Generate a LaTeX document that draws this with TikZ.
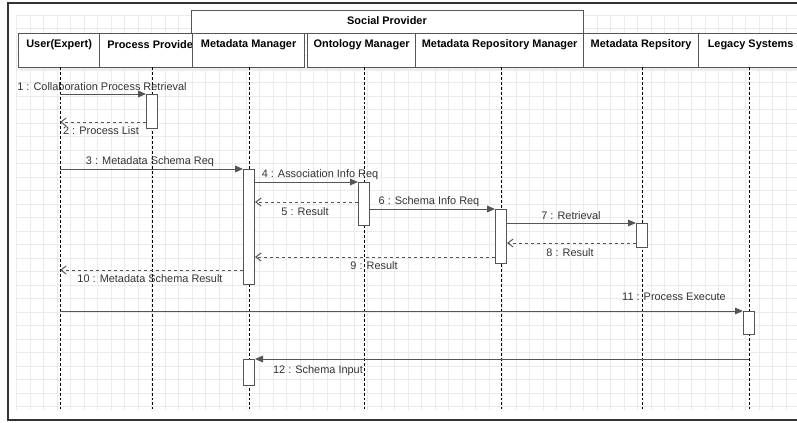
\documentclass[tikz,border=0pt]{standalone}
\usepackage{fontspec}
\setmainfont{Liberation Sans}
\usetikzlibrary{arrows.meta}
\definecolor{linegray}{HTML}{555555}
\definecolor{textgray}{HTML}{333333}
\definecolor{gridgray}{HTML}{EBEBEB}
\definecolor{framegray}{HTML}{333333}

\begin{document}
\begin{tikzpicture}[x=0.75pt,y=-0.75pt,
   gridline/.style ={gridgray, line width=0.5pt},
   head/.style ={rectangle, draw=linegray, fill=white, line width=0.9pt, inner sep=0pt, anchor=north west, minimum width=#1*0.75pt, minimum height=25.5pt},
   headtext/.style ={anchor=center, yshift=-9pt, inner sep=0pt, font=\fontsize{8.2}{10}\selectfont\bfseries},
   life/.style ={black, line width=0.6pt, dash pattern=on 2.2pt off 1.5pt},
   act/.style ={rectangle, draw=linegray, fill=white, line width=0.75pt, inner sep=0pt, anchor=north, minimum width=8.25pt, minimum height=#1*0.75pt},
   msg/.style ={linegray, line width=0.75pt, -{Triangle[length=6pt,width=5pt]}},
   ret/.style ={linegray, line width=0.75pt, dash pattern=on 2.5pt off 2pt, -{Straight Barb[length=4pt,width=6pt]}},
   lbl/.style ={font=\fontsize{8.2}{10}\selectfont, text=textgray, inner sep=0pt}]
   \useasboundingbox (0,0) rectangle (797,422);
   \clip (0,0) rectangle (797,422);

   \foreach \i in {0,...,57}
      \draw[gridline] ({16.5+13.5*\i},15) -- ({16.5+13.5*\i},410);
   \foreach \j in {0,...,29}
      \draw[gridline] (16.5,{15+13.5*\j}) -- (797,{15+13.5*\j});

   \draw[framegray, line width=1.5pt] (8,3) rectangle (812,420);
   \fill[gray!14] (20,67) rectangle (800,71);

   \node[head=392, minimum height=17.25pt] (social) at (191,10) {};
   \node[font=\fontsize{8.2}{10}\selectfont\bfseries, inner sep=0pt] (socialtext) at (387,21) {Social Provider};

   \node[head=81, label={[headtext]north:User(Expert)}] (user) at (18,33) {};
   \node[head=106] (pp) at (99,33) {};
   \node[anchor=west, inner sep=0pt, font=\fontsize{8.2}{10}\selectfont\bfseries] (pptext) at (107,45) {Process Provide};
   \node[head=112, label={[headtext]north:Metadata Manager}] (mm) at (192,33) {};
   \node[head=108, label={[headtext]north:Ontology Manager}] (om) at (307,33) {};
   \node[head=168, label={[headtext]north:Metadata Repository Manager}] (mrm) at (415,33) {};
   \node[head=115, label={[headtext]north:Metadata Repsitory}] (mr) at (583,33) {};
   \node[head=104, label={[headtext]north:Legacy Systems}] (ls) at (698,33) {};

   \coordinate (uTop) at (60,67);    \coordinate (uBot) at (60,409);
   \coordinate (ppTop) at (152,67);  \coordinate (ppBot) at (152,409);
   \coordinate (mmTop) at (249,67);  \coordinate (mmBot) at (249,409);
   \coordinate (omTop) at (364,67);  \coordinate (omBot) at (364,409);
   \coordinate (mrmTop) at (501,67); \coordinate (mrmBot) at (501,409);
   \coordinate (mrTop) at (642,67);  \coordinate (mrBot) at (642,409);
   \coordinate (lsTop) at (749,67);  \coordinate (lsBot) at (749,409);

   \draw[life] (uTop) -- (uBot);
   \draw[life] (ppTop) -- (ppBot);
   \draw[life] (mmTop) -- (mmBot);
   \draw[life] (omTop) -- (omBot);
   \draw[life] (mrmTop) -- (mrmBot);
   \draw[life] (mrTop) -- (mrBot);
   \draw[life] (lsTop) -- (lsBot);

   \node[act=34] (a1) at (152,94) {};
   \node[act=115] (a2) at (249,169) {};
   \node[act=43] (a3) at (364,182) {};
   \node[act=54] (a4) at (501,209) {};
   \node[act=24] (a5) at (642,223) {};
   \node[act=23] (a6) at (749,311) {};
   \node[act=26] (a7) at (249,359) {};

   \coordinate (r2) at (0,122);
   \coordinate (r5) at (0,202);
   \coordinate (r8) at (0,243);
   \coordinate (r9) at (0,257);
   \coordinate (r10) at (0,270);

   \draw[msg] (uTop |- a1.north) to (a1.north west);
   \draw[ret] (a1.west |- r2) to (uTop |- r2);
   \draw[msg] (uTop |- a2.north) to (a2.north west);
   \draw[msg] (a2.east |- a3.north) to (a3.north west);
   \draw[ret] (a3.west |- r5) to (a2.east |- r5);
   \draw[msg] (a3.east |- a4.north) to (a4.north west);
   \draw[msg] (a4.east |- a5.north) to (a5.north west);
   \draw[ret] (a5.west |- r8) to (a4.east |- r8);
   \draw[ret] (a4.west |- r9) to (a2.east |- r9);
   \draw[ret] (a2.west |- r10) to (uTop |- r10);
   \draw[msg] (uTop |- a6.north) to (a6.north west);
   \draw[msg] (lsTop |- a7.north) to (a7.north east);

   \node[lbl] (l1) at (102,87) {1 : Collaboration Process Retrieval};
   \node[lbl] (l2) at (101,131) {2 : Process List};
   \node[lbl] (l3) at (150,162) {3 : Metadata Schema Req};
   \node[lbl] (l4) at (320,175) {4 : Association Info Req};
   \node[lbl] (l5) at (305,212) {5 : Result};
   \node[lbl] (l6) at (429,202) {6 : Schema Info Req};
   \node[lbl] (l7) at (571,216) {7 : Retrieval};
   \node[lbl] (l8) at (570,253) {8 : Result};
   \node[lbl] (l9) at (374,266) {9 : Result};
   \node[lbl] (l10) at (150,279) {10 : Metadata Schema Result};
   \node[lbl] (l11) at (674,297) {11 : Process Execute};
   \node[lbl] (l12) at (318,371) {12 : Schema Input};
 \end{tikzpicture}
\end{document}
